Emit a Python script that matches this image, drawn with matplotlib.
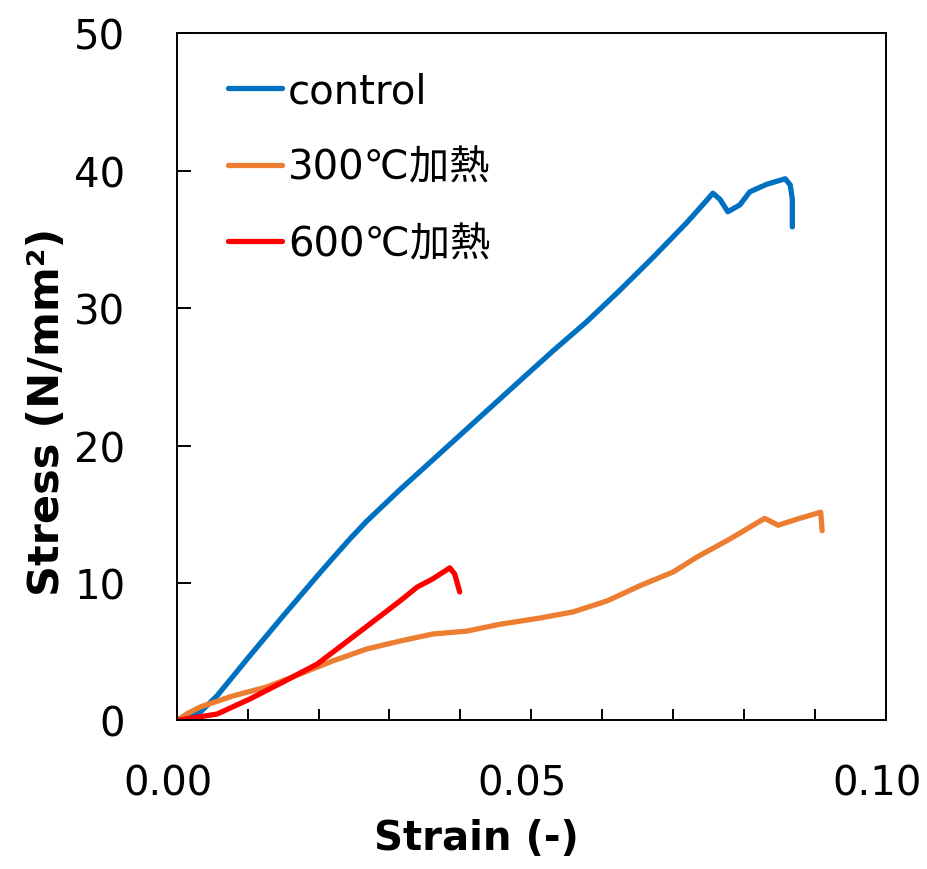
import numpy as np
import matplotlib.pyplot as plt
from matplotlib.ticker import MultipleLocator
from matplotlib.transforms import ScaledTranslation

plt.rcParams['font.family'] = ['DejaVu Sans', 'Noto Sans CJK JP']

# 応力-ひずみ曲線 (読み取り値)
ctrl_strain = [0.0, 0.0033, 0.0057, 0.0103, 0.0150, 0.0174, 0.0198, 0.0220, 0.0245,
               0.0268, 0.0315, 0.0361, 0.0409, 0.0456, 0.0488, 0.0531, 0.0578, 0.0625,
               0.0672, 0.0719, 0.0745, 0.0756, 0.0766, 0.0777, 0.0794, 0.0808, 0.0832,
               0.0858, 0.0865, 0.0868, 0.0868]
ctrl_stress = [0.0, 0.6, 1.8, 4.7, 7.6, 9.05, 10.5, 11.8, 13.25,
               14.5, 16.8, 18.95, 21.2, 23.4, 24.9, 26.9, 29.0, 31.3,
               33.7, 36.2, 37.7, 38.35, 37.9, 37.0, 37.5, 38.45, 39.0,
               39.4, 38.95, 37.9, 35.9]

h300_strain = [0.0, 0.0015, 0.0033, 0.0079, 0.0127, 0.0174, 0.0220, 0.0268, 0.0315,
               0.0361, 0.0409, 0.0456, 0.0512, 0.0559, 0.0607, 0.0653, 0.0700, 0.0734,
               0.0780, 0.0829, 0.0848, 0.0875, 0.0908, 0.0910]
h300_stress = [0.0, 0.5, 0.98, 1.78, 2.44, 3.38, 4.33, 5.2, 5.78,
               6.29, 6.5, 7.0, 7.45, 7.9, 8.7, 9.8, 10.8, 11.9,
               13.2, 14.7, 14.2, 14.65, 15.15, 13.8]

h600_strain = [0.0, 0.0057, 0.0103, 0.0150, 0.0198, 0.0244, 0.0291, 0.0315, 0.0339,
               0.0361, 0.0385, 0.0392, 0.0399]
h600_stress = [0.0, 0.47, 1.56, 2.8, 4.1, 5.9, 7.75, 8.7, 9.7,
               10.3, 11.1, 10.65, 9.35]

fig = plt.figure(figsize=(9.28, 8.70), dpi=100)
ax = fig.add_axes([0.1904, 0.1707, 0.7643, 0.7902])

lw = 3.8
style = dict(lw=lw, solid_capstyle='round', solid_joinstyle='round')
ax.plot(ctrl_strain, ctrl_stress, color='#0070C0', label='control', **style)
ax.plot(h300_strain, h300_stress, color='#ED7D31', label='300℃加熱', **style)
ax.plot(h600_strain, h600_stress, color='#FF0000', label='600℃加熱', **style)

ax.set_xlim(0, 0.10)
ax.set_ylim(0, 50)
ax.xaxis.set_major_locator(MultipleLocator(0.05))
ax.xaxis.set_minor_locator(MultipleLocator(0.01))
ax.yaxis.set_major_locator(MultipleLocator(10))
ax.xaxis.set_major_formatter(lambda v, p: f'{v:.2f}')

for s in ax.spines.values():
    s.set_linewidth(1.4)

ax.tick_params(axis='x', which='both', direction='in', length=8, width=1.4,
               labelsize=29, pad=31)
ax.tick_params(axis='y', which='major', direction='in', length=10, width=1.4,
               labelsize=29, pad=37)

# ラベル位置を少し左へ
off = ScaledTranslation(-9 / 100, 0, fig.dpi_scale_trans)
for t in ax.get_xticklabels():
    t.set_transform(t.get_transform() + off)

ax.set_xlabel('Strain (-)', fontsize=29, fontweight='bold')
ax.set_ylabel('Stress (N/mm²)', fontsize=31, fontweight='bold')
ax.xaxis.set_label_coords(0.423, -0.142)
ax.yaxis.set_label_coords(-0.153, 0.45)

ax.legend(loc='upper left', bbox_to_anchor=(0.072, 0.944), frameon=False,
          fontsize=29, handlelength=1.35, handletextpad=0.15, labelspacing=0.9,
          borderpad=0, borderaxespad=0)

fig.savefig('out.png', dpi=100)
